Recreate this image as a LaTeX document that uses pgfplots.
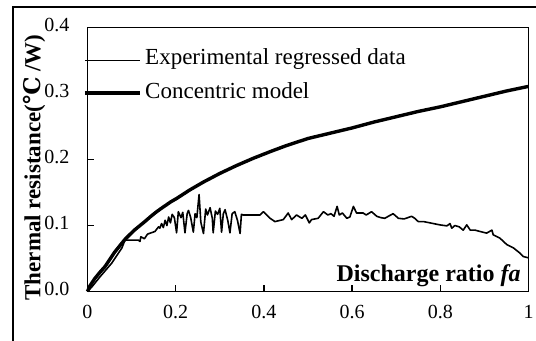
\documentclass[border=0pt]{standalone}
\usepackage{pgfplots}
\pgfplotsset{compat=1.18}
\usepackage{fontspec}
\setmainfont{Liberation Serif}
\newfontfamily\djv{DejaVu Serif}
\begin{document}
\begin{tikzpicture}
\useasboundingbox (0,0) rectangle (268pt,170.5pt);
\draw[line width=0.65pt] (6.5pt,-2pt) -- (6.5pt,167pt) -- (272pt,167pt);
\begin{axis}[
  at={(43.75pt,24.75pt)}, anchor=south west,
  scale only axis, width=220.5pt, height=131.9pt,
  xmin=0, xmax=1, ymin=0, ymax=0.4,
  clip=false,
  axis line style={line width=0.65pt},
  every tick/.style={black, line width=0.65pt},
  tick align=inside, major tick length=3pt,
  xtick pos=bottom, ytick pos=left,
  xtick={0,0.2,0.4,0.6,0.8,1},
  ytick={0,0.1,0.2,0.3,0.4},
  /pgf/number format/assume math mode=true,
  tick label style={font=\fontsize{10}{11}\selectfont},
  xticklabel style={yshift=-3.5pt},
  yticklabel style={xshift=-5.5pt, yshift=1.35pt, /pgf/number format/fixed, /pgf/number format/fixed zerofill, /pgf/number format/precision=1},
  ylabel={\textbf{Thermal resistance(}{\djv\bfseries ℃}\textbf{ /W)}},
  ylabel style={at={(axis description cs:-0.121,0.47)}, anchor=center, font=\fontsize{11.5}{12.5}\selectfont},
]
% Concentric model
\addplot[black, line width=1.7pt, line join=round] coordinates {
(0,0) (0.005,0.008) (0.017,0.020) (0.028,0.029) (0.040,0.038) (0.051,0.049) (0.062,0.060) (0.074,0.070)
(0.085,0.079) (0.097,0.087) (0.108,0.094) (0.119,0.100) (0.130,0.106) (0.142,0.113) (0.153,0.119)
(0.165,0.125) (0.176,0.130) (0.189,0.136) (0.202,0.141) (0.232,0.154) (0.263,0.166) (0.300,0.179)
(0.338,0.191) (0.376,0.202) (0.414,0.212) (0.450,0.221) (0.500,0.232) (0.550,0.240) (0.600,0.248)
(0.650,0.257) (0.700,0.265) (0.750,0.273) (0.800,0.280) (0.850,0.288) (0.900,0.296) (0.950,0.304)
(1.000,0.311)
};
% Experimental regressed data
\addplot[black, line width=0.8pt, line join=round] coordinates {
(0,0) (0.010,0.007) (0.028,0.022) (0.055,0.043) (0.078,0.066) (0.085,0.078) (0.115,0.078)
(0.119,0.076) (0.121,0.083) (0.129,0.080) (0.136,0.087) (0.153,0.091) (0.161,0.098) (0.164,0.096)
(0.168,0.103) (0.172,0.097) (0.176,0.108) (0.180,0.100) (0.184,0.113) (0.188,0.104) (0.192,0.117)
(0.197,0.112) (0.202,0.089) (0.206,0.121) (0.212,0.112) (0.216,0.120) (0.221,0.089) (0.226,0.118)
(0.229,0.123) (0.234,0.112) (0.240,0.090) (0.244,0.118) (0.248,0.112) (0.253,0.147) (0.257,0.105)
(0.263,0.088) (0.268,0.125) (0.272,0.116) (0.278,0.127) (0.283,0.111) (0.285,0.089) (0.290,0.122)
(0.295,0.117) (0.300,0.126) (0.304,0.090) (0.308,0.118) (0.312,0.124) (0.318,0.108) (0.323,0.089)
(0.328,0.118) (0.334,0.121) (0.340,0.108) (0.346,0.088) (0.349,0.117) (0.353,0.116) (0.391,0.116)
(0.399,0.121) (0.414,0.111) (0.425,0.106) (0.444,0.109) (0.455,0.119) (0.463,0.109) (0.474,0.116)
(0.486,0.111) (0.494,0.116) (0.503,0.104) (0.508,0.109) (0.523,0.111) (0.535,0.121) (0.545,0.116)
(0.552,0.118) (0.559,0.114) (0.566,0.129) (0.571,0.116) (0.578,0.119) (0.588,0.111) (0.595,0.113)
(0.603,0.129) (0.610,0.119) (0.625,0.119) (0.632,0.116) (0.644,0.121) (0.656,0.114) (0.665,0.112)
(0.674,0.111) (0.693,0.118) (0.705,0.111) (0.718,0.110) (0.735,0.114) (0.742,0.111) (0.750,0.106)
(0.762,0.106) (0.777,0.104) (0.799,0.101) (0.815,0.0995) (0.822,0.103) (0.826,0.096) (0.833,0.100)
(0.843,0.098) (0.852,0.093) (0.860,0.101) (0.868,0.093) (0.879,0.093) (0.890,0.091) (0.905,0.0885)
(0.917,0.093) (0.920,0.086) (0.935,0.081) (0.951,0.071) (0.966,0.066) (0.981,0.058) (0.988,0.053)
(1.000,0.051)
};
% legend-like lines drawn in data coordinates
\addplot[black, line width=0.8pt] coordinates {(-0.006,0.35) (0.120,0.35)};
\addplot[black, line width=1.7pt] coordinates {(-0.006,0.301) (0.120,0.301)};
\node[anchor=base west, inner sep=0pt, font=\fontsize{11.5}{12.5}\selectfont] at (axis cs:0.130,0.344) {Experimental regressed data};
\node[anchor=base west, inner sep=0pt, font=\fontsize{11.5}{12.5}\selectfont] at (axis cs:0.130,0.2926) {Concentric model};
\node[anchor=base east, inner sep=0pt, font=\fontsize{12}{13}\selectfont] at (axis cs:0.983,0.0144) {\textbf{Discharge ratio \textit{fa}}};
\end{axis}
\end{tikzpicture}
\end{document}
